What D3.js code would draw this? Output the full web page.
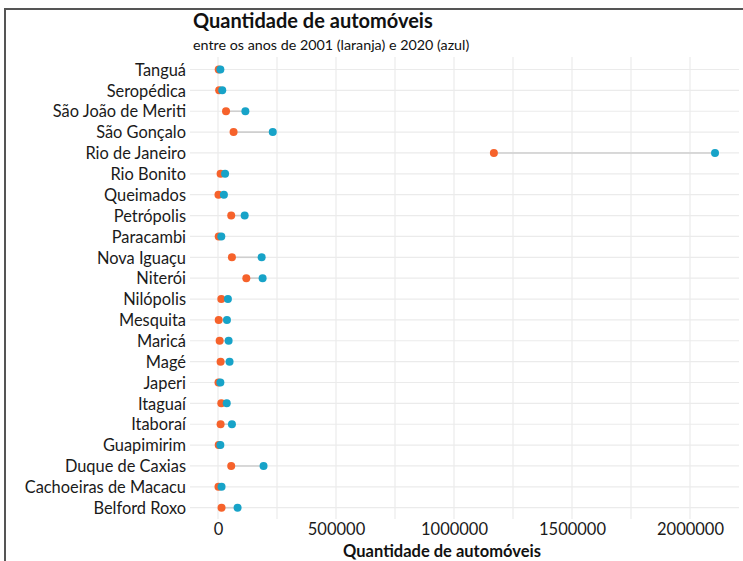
<html>
  <head>
    <meta charset="utf-8">
    <title>Quantidade de automóveis</title>
    <script src="https://d3js.org/d3.v7.min.js"></script>
    <style>
      body { margin: 0; background: #fff; }
      text { font-family: Lato, "Open Sans", sans-serif; }
    </style>
  </head>
  <body>
    <svg width="743" height="561"></svg>

    <script type="text/javascript">
            var municipios = ["Tanguá", "Seropédica", "São João de Meriti", "São Gonçalo", "Rio de Janeiro",
                "Rio Bonito", "Queimados", "Petrópolis", "Paracambi", "Nova Iguaçu", "Niterói",
                "Nilópolis", "Mesquita", "Maricá", "Magé", "Japeri", "Itaguaí", "Itaboraí",
                "Guapimirim", "Duque de Caxias", "Cachoeiras de Macacu", "Belford Roxo"];

            // 2001 (laranja)
            var ano2001 = [3000, 5000, 34000, 66000, 1169000,
                11000, 2000, 56000, 3000, 59000, 120000,
                14000, 3000, 7000, 11000, 2000, 14000, 11000,
                3000, 56000, 2000, 15000];

            // 2020 (azul)
            var ano2020 = [10000, 18000, 116000, 232000, 2106000,
                30000, 25000, 113000, 14000, 185000, 189000,
                42000, 38000, 45000, 49000, 10000, 37000, 59000,
                10000, 193000, 15000, 83000];

            var xTicks = [0, 500000, 1000000, 1500000, 2000000];
            var xMinor = [250000, 750000, 1250000, 1750000];

            var dataset = municipios.map(function(m, i){
                return {nome: m, v1: ano2001[i], v2: ano2020[i]};
            });

            var svg = d3.select("svg");

            // moldura
            svg.append("rect")
               .attr("x", 5).attr("y", 9)
               .attr("width", 800).attr("height", 600)
               .attr("fill", "none")
               .attr("stroke", "#555")
               .attr("stroke-width", 2);

            var xScale = d3.scaleLinear().domain([0, 2000000]).range([218, 690]);
            var yScale = d3.scalePoint().domain(municipios).range([69.5, 507.7]);

            var plotLeft = 190, plotRight = 739, plotTop = 57, plotBottom = 519;

            // grade
            var grid = svg.append("g").attr("class", "grid");
            grid.selectAll("line.v")
                .data(xTicks.concat(xMinor))
                .enter()
                .append("line")
                .attr("class", "v")
                .attr("x1", d=>xScale(d)).attr("x2", d=>xScale(d))
                .attr("y1", plotTop).attr("y2", plotBottom)
                .attr("stroke", "#ebebeb")
                .attr("stroke-width", 1.2);
            grid.selectAll("line.h")
                .data(municipios)
                .enter()
                .append("line")
                .attr("class", "h")
                .attr("x1", plotLeft).attr("x2", plotRight)
                .attr("y1", d=>yScale(d)).attr("y2", d=>yScale(d))
                .attr("stroke", "#ebebeb")
                .attr("stroke-width", 1.2);

            // eixo y
            var yAxis = d3.axisLeft(yScale).tickSize(0).tickPadding(0);
            var yAxisGroup = svg.append("g")
                .attr("transform", "translate(186,0)")
                .call(yAxis);
            yAxisGroup.select(".domain").remove();
            yAxisGroup.selectAll("text")
                .attr("font-size", 16.4)
                .attr("font-family", "Lato, sans-serif")
                .attr("fill", "#1a1a1a")
                .attr("dy", "0.35em");

            // eixo x
            var xAxis = d3.axisBottom(xScale).tickValues(xTicks).tickSize(0).tickPadding(0)
                .tickFormat(d3.format("d"));
            var xAxisGroup = svg.append("g")
                .attr("transform", "translate(0,523)")
                .call(xAxis);
            xAxisGroup.select(".domain").remove();
            xAxisGroup.selectAll("text")
                .attr("font-size", 16.5)
                .attr("font-family", "Lato, sans-serif")
                .attr("fill", "#1a1a1a")
                .attr("dy", "0.71em");

            // segmentos
            svg.append("g")
               .selectAll("line")
               .data(dataset)
               .enter()
               .append("line")
               .attr("x1", d=>xScale(d.v1)).attr("x2", d=>xScale(d.v2))
               .attr("y1", d=>yScale(d.nome)).attr("y2", d=>yScale(d.nome))
               .attr("stroke", "#cfcfcf")
               .attr("stroke-width", 1.6);

            svg.append("g")
               .selectAll("circle")
               .data(dataset)
               .enter()
               .append("circle")
               .attr("cx", d=>xScale(d.v1))
               .attr("cy", d=>yScale(d.nome))
               .attr("r", 4)
               .attr("fill", "#f6622b");

            svg.append("g")
               .selectAll("circle")
               .data(dataset)
               .enter()
               .append("circle")
               .attr("cx", d=>xScale(d.v2))
               .attr("cy", d=>yScale(d.nome))
               .attr("r", 4)
               .attr("fill", "#17a3c8");

            // titulos
            svg.append("text")
               .attr("x", 193).attr("y", 28)
               .attr("font-size", 20)
               .attr("font-weight", "bold")
               .attr("fill", "#111")
               .text("Quantidade de automóveis");
            svg.append("text")
               .attr("x", 193).attr("y", 50)
               .attr("font-size", 14.3)
               .attr("fill", "#111")
               .text("entre os anos de 2001 (laranja) e 2020 (azul)");
            svg.append("text")
               .attr("x", 442).attr("y", 557)
               .attr("text-anchor", "middle")
               .attr("font-size", 16.5)
               .attr("font-weight", "bold")
               .attr("fill", "#111")
               .text("Quantidade de automóveis");
    </script>
  </body>
</html>
